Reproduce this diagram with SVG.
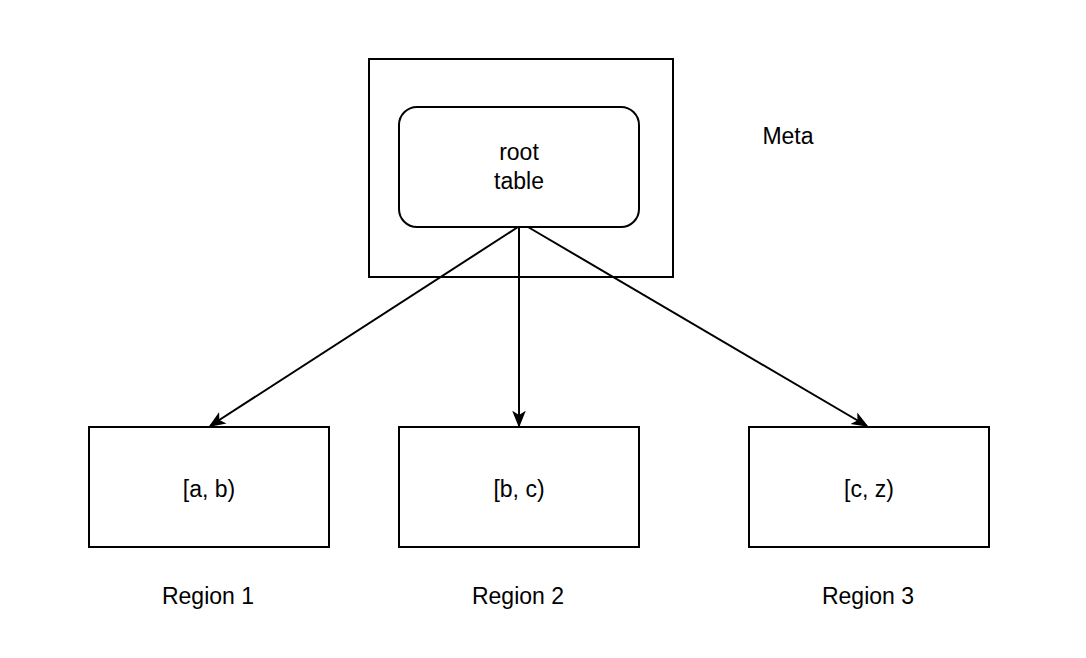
<svg xmlns="http://www.w3.org/2000/svg" width="1086" height="658" viewBox="0 0 1086 658">
<defs>
<style>
.box{fill:#fff;stroke:#000;stroke-width:2}
.t{font-family:"Liberation Sans",Arial,sans-serif;font-size:23px;fill:#000;text-anchor:middle}
</style>
<marker id="ah2" viewBox="0 0 10 10" refX="9" refY="5" markerWidth="17" markerHeight="17" markerUnits="userSpaceOnUse" orient="auto"><path d="M0,1 L10,5 L0,9 L2.5,5 Z" fill="#000"/></marker>
</defs>
<rect width="1086" height="658" fill="#fff"/>
<g id="meta">
<rect class="box" x="369" y="59" width="304" height="218"/>
<text class="t" x="788" y="144">Meta</text>
</g>
<g id="root">
<rect class="box" x="399" y="107" width="240" height="120" rx="18" ry="18"/>
<text class="t" x="519" y="160">root</text>
<text class="t" x="519" y="189">table</text>
</g>
<g id="r1">
<rect class="box" x="89" y="427" width="240" height="120"/>
<text class="t" x="209" y="497">[a, b)</text>
<text class="t" x="208" y="604">Region 1</text>
</g>
<g id="r2">
<rect class="box" x="399" y="427" width="240" height="120"/>
<text class="t" x="519" y="497">[b, c)</text>
<text class="t" x="518" y="604">Region 2</text>
</g>
<g id="r3">
<rect class="box" x="749" y="427" width="240" height="120"/>
<text class="t" x="869" y="497">[c, z)</text>
<text class="t" x="868" y="604">Region 3</text>
</g>
<g id="connectors" stroke="#000" stroke-width="2" fill="none">
<line x1="518" y1="227" x2="210" y2="426" marker-end="url(#ah2)"/>
<line x1="519" y1="227" x2="519" y2="426" marker-end="url(#ah2)"/>
<line x1="528" y1="227" x2="867" y2="426" marker-end="url(#ah2)"/>
</g>
</svg>
